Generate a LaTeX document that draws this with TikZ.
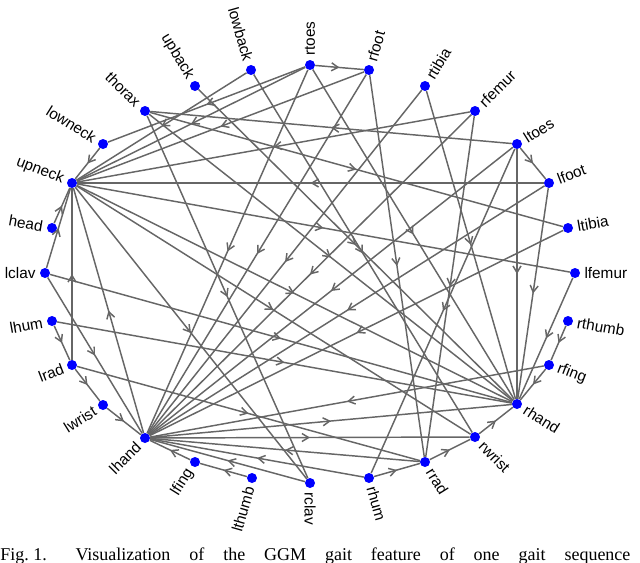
\documentclass[tikz,border=0pt]{standalone}
\usepackage{fontspec}
\setmainfont{Liberation Serif}
\newfontfamily\lblfont{Liberation Sans}
\usetikzlibrary{arrows.meta,decorations.markings}
\tikzset{
  v/.style={circle,fill=blue,inner sep=0pt,minimum size=7.5pt},
  e/.style={draw=black!60,line width=1.1pt,postaction={decorate},
    decoration={markings,mark=at position 0.5 with {\arrow[black!60]{Straight Barb[length=5pt,width=6pt]}}}},
  lbl/.style={font=\lblfont\fontsize{11.5}{13}\selectfont,inner sep=3pt}
}
\begin{document}
\begin{tikzpicture}[x=0.75pt,y=-0.75pt]
\useasboundingbox (0,0) rectangle (640,562);
\clip (0,0) rectangle (640,562);
\foreach \n/\x/\y in {upneck/72/183,head/52/228,lclav/45/273,lhum/52/321,lrad/72/365,lwrist/103/405,lhand/145/438,lfing/195/462,lthumb/252/478,rclav/310/483,rhum/369/478,rrad/425/462,rwrist/475/437,rhand/517/404,rfing/549/365,rthumb/568/321,lfemur/575/273,ltibia/568/228,lfoot/549/183,ltoes/517/144,rfemur/475/111,rtibia/425/86,rfoot/369/70,rtoes/310/65,lowback/251/70,upback/195/86,thorax/145/111,lowneck/103/144}
  \node[v] (\n) at (\x,\y) {};
\foreach \n/\a in {upneck/159,head/170,lclav/180,lhum/190,lrad/201,lwrist/212,lhand/225,lfing/238,lthumb/254,lowback/106,upback/121,thorax/135,lowneck/148}
  \node[lbl,anchor=east,rotate=\a-180] at (\n.\a) {\n};
\foreach \n/\a in {rclav/270,rhum/286,rrad/302,rwrist/315,rhand/328,rfing/339,rthumb/350,lfemur/0,ltibia/10,lfoot/21,ltoes/32,rfemur/45,rtibia/59,rfoot/74,rtoes/90}
  \node[lbl,anchor=west,rotate=\a] at (\n.\a) {\n};
\foreach \s/\t in {lowneck/upneck,head/upneck,lclav/upneck,lrad/upneck,lhand/upneck,lhum/lrad,lrad/lwrist,lwrist/lhand,lfing/lhand,lthumb/lfing,
  rtoes/rfoot,rtoes/lowneck,rtoes/upneck,rtoes/lhand,rtoes/rhand,rfoot/lhand,rfoot/rrad,rfoot/upneck,
  rtibia/lhand,rtibia/rhand,rfemur/lhand,rfemur/rrad,rfemur/upneck,
  ltoes/lfoot,ltoes/lhand,ltoes/rhand,ltoes/rhum,ltoes/thorax,lfoot/upneck,lfoot/rhand,lfoot/lhand,
  ltibia/lhand,thorax/ltibia,upneck/lfemur,lfemur/rhand,
  thorax/rhand,thorax/rclav,upback/rhand,lowback/upneck,lowback/rwrist,
  rthumb/rfing,rfing/rhand,rfing/lhand,rwrist/rhand,rrad/rwrist,rhum/rrad,rrad/lhand,rclav/lhand,
  lclav/rhand,lhum/rhand,lrad/rrad,lhand/rhand,lhand/rwrist,rhum/lhand,upneck/rhand,upneck/rwrist,upneck/rclav,lclav/lhand}
  \draw[e] (\s) -- (\t);
\node[anchor=base west,inner sep=0pt,font=\fontsize{13.5}{15}\selectfont] at (0,560)
  {Fig.\ 1.\hspace{1.6em}Visualization\hspace{1.05em}of\hspace{1.05em}the\hspace{1.05em}GGM\hspace{1.05em}gait\hspace{1.05em}feature\hspace{1.05em}of\hspace{1.05em}one\hspace{1.05em}gait\hspace{1.05em}sequence};
\end{tikzpicture}
\end{document}
